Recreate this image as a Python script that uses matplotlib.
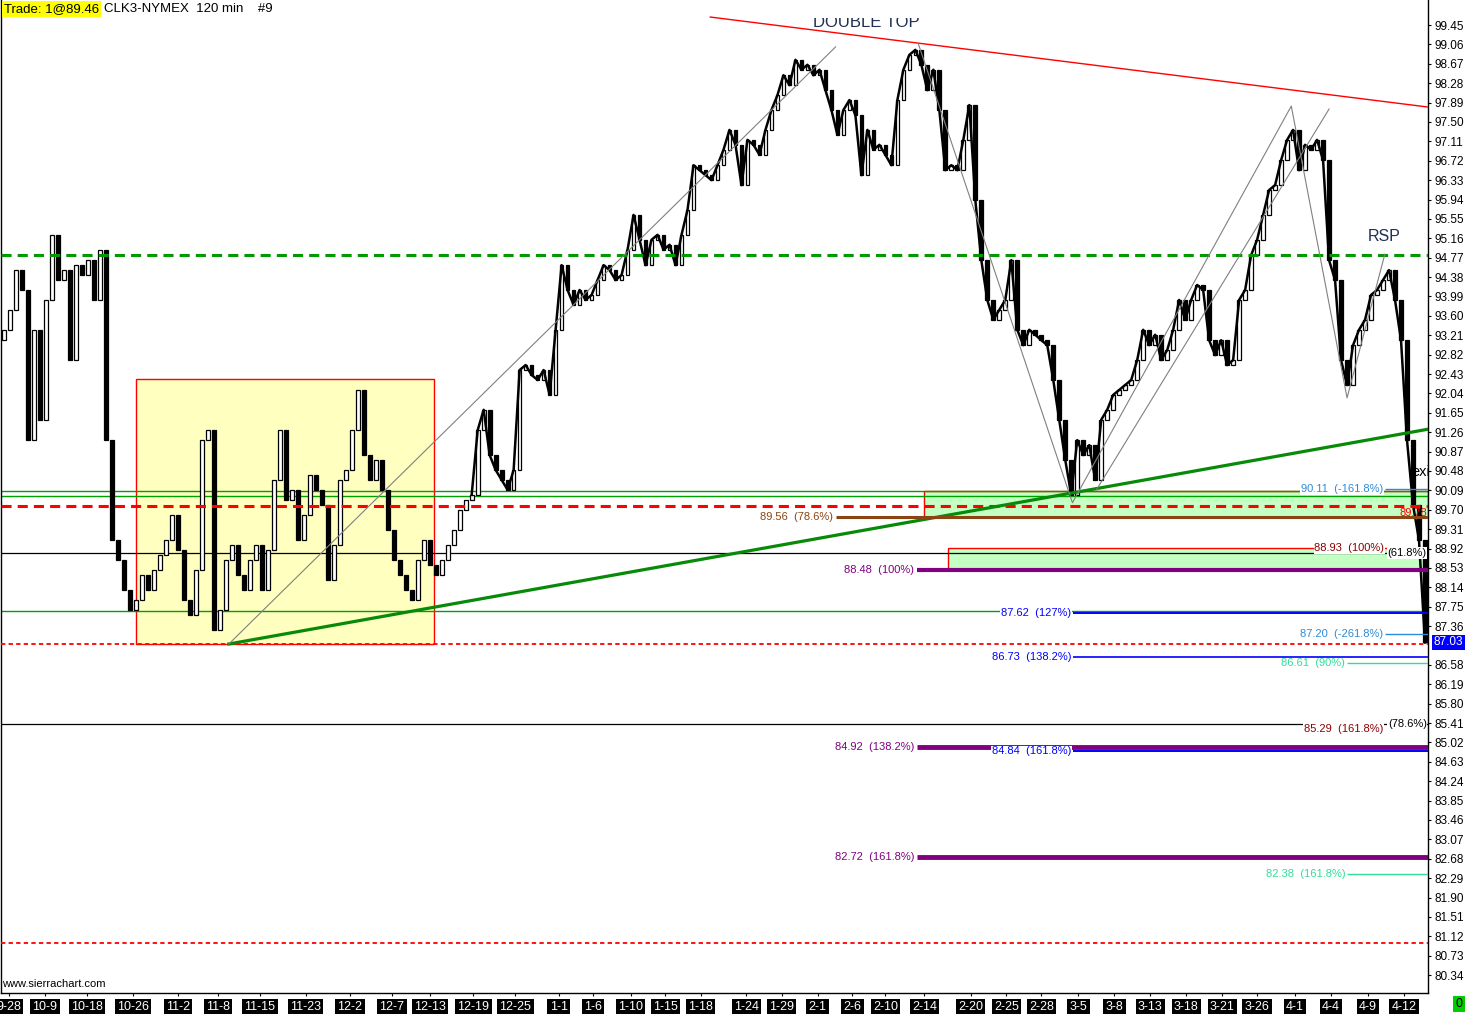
import numpy as np
import matplotlib
matplotlib.use('Agg')
import matplotlib.pyplot as plt
from matplotlib.patches import Rectangle
from matplotlib.transforms import Bbox, TransformedBbox, IdentityTransform

plt.rcParams['font.family'] = ['Liberation Sans', 'DejaVu Sans']

# 120 min closes, CLK3 (one value per bar)
closes = [
    93.32, 93.72, 94.52, 94.12, 91.10, 93.32, 91.51, 93.92, 95.23, 94.32,
    94.52, 92.71, 94.62, 94.42, 94.72, 93.92, 94.93, 91.10,
    89.09, 88.69, 88.09, 87.68, 87.89, 88.39, 88.09, 88.49, 88.79, 89.09,
    89.60, 88.89, 87.89, 87.58, 88.49, 91.10, 91.30, 87.28, 87.68, 88.69,
    88.99, 88.39, 88.09, 88.69, 88.99, 88.09, 88.89, 90.30, 91.30, 89.90,
    90.10, 89.09, 89.60, 90.40, 90.10, 89.80, 88.29, 88.99, 90.30, 90.50,
    91.30, 92.11, 90.80, 90.30, 90.70, 90.10, 89.29, 88.69, 88.39, 88.09,
    87.89, 88.69, 89.09, 88.59, 88.39, 88.69, 88.99, 89.29, 89.70, 89.90,
    90.00, 91.30, 91.71, 90.80, 90.50, 90.30, 90.10, 90.50, 92.51, 92.61,
    92.41, 92.31, 92.51, 92.01, 93.32, 94.62, 94.12, 93.82, 94.12, 93.92,
    94.02, 94.32, 94.62, 94.52, 94.32, 94.42, 94.93, 95.63, 95.13, 94.62,
    95.13, 95.23, 94.93, 95.03, 94.62, 95.23, 95.73, 96.63, 96.53, 96.43,
    96.33, 96.63, 96.94, 97.34, 97.04, 96.23, 97.14, 97.04, 96.84, 97.34,
    97.74, 98.04, 98.44, 98.24, 98.75, 98.55, 98.65, 98.44, 98.55, 98.14,
    97.74, 97.24, 97.74, 97.94, 97.64, 96.43, 97.34, 96.94, 97.04, 96.84,
    96.63, 97.94, 98.55, 98.85, 98.95, 98.65, 98.14, 98.55, 97.74, 96.53,
    96.63, 96.53, 97.14, 97.84, 95.93, 94.72, 93.92, 93.52, 93.72, 93.92,
    94.72, 93.32, 93.01, 93.32, 93.22, 93.11, 93.01, 92.31, 91.51, 90.70,
    90.00, 91.10, 90.80, 91.00, 90.30, 91.51, 91.71, 92.01, 92.11, 92.21,
    92.31, 92.71, 93.32, 93.01, 93.22, 92.71, 92.91, 93.32, 93.92, 93.52,
    93.92, 94.22, 94.12, 93.11, 92.81, 93.11, 92.61, 92.71, 93.92, 94.12,
    94.82, 95.13, 95.63, 96.13, 96.23, 96.73, 97.14, 97.34, 96.53, 97.04,
    96.94, 97.14, 96.73, 94.72, 94.32, 92.71, 92.21, 93.01, 93.32, 93.52,
    94.02, 94.12, 94.32, 94.52, 93.92, 93.11, 91.10, 89.80, 89.09, 87.03,
]
last_price = 87.03

date_labels = ['9-28', '10-9', '10-18', '10-26', '11-2', '11-8', '11-15', '11-23',
               '12-2', '12-7', '12-13', '12-19', '12-25', '1-1', '1-6', '1-10',
               '1-15', '1-18', '1-24', '1-29', '2-1', '2-6', '2-10', '2-14', '2-20',
               '2-25', '2-28', '3-5', '3-8', '3-13', '3-18', '3-21', '3-26', '4-1',
               '4-4', '4-9', '4-12']
date_bars = [0.8, 6.8, 13.8, 21.5, 29.0, 35.7, 42.7, 50.3, 57.7, 64.7, 71.0, 78.3,
             85.3, 92.5, 98.2, 104.5, 110.3, 116.2, 123.8, 129.7, 135.7, 141.5,
             147.0, 153.5, 161.2, 167.2, 173.0, 179.2, 185.2, 191.2, 197.2, 203.2,
             209.0, 215.3, 221.3, 227.5, 233.5]

# right scale, 86.97 sits under the last-price box
price_ticks = [round(99.45 - 0.39 * k, 2) for k in range(50)]
price_ticks = [p for p in price_ticks if abs(p - 86.97) > 0.01]

# horizontal levels
resistance = 94.83
red_level = 89.78
red_thin = [87.00, 80.98]
green_thin = [90.07, 89.97, 87.66]
black_thin = [88.83, 85.39]

# fib projection levels: price, pct
fib_price = [89.56, 88.48, 87.62, 86.73, 84.92, 84.84, 82.72, 90.11, 87.20, 86.61, 82.38]
fib_pct = ['78.6%', '100%', '127%', '138.2%', '138.2%', '161.8%', '161.8%',
           '-161.8%', '-261.8%', '90%', '161.8%']
# label right end (bar), line start (bar), color, line width
fib_style = [
    (138.3, 138.8, '#8B4513', 2.2),
    (151.8, 152.3, '#800080', 3.0),
    (178.0, 178.3, '#0000FF', 1.4),
    (178.0, 178.3, '#0000FF', 1.2),
    (151.8, 152.3, '#800080', 3.5),
    (178.0, 178.3, '#0000FF', 1.4),
    (151.8, 152.3, '#800080', 3.5),
    (230.0, 230.3, '#2E8BD6', 1.0),
    (230.0, 230.3, '#2E8BD6', 1.0),
    (223.7, 224.0, '#33DD99', 1.0),
    (223.7, 224.0, '#33DD99', 1.0),
]

# drawn objects (bar index, price)
box_yellow = ((22.0, 87.00), (71.7, 92.33))
box_green1 = ((153.5, 89.56), (237.5, 90.07))
box_green2 = ((157.5, 88.48), (237.5, 88.93))
trend_green = ((37.5, 87.00), (237.5, 91.32))
trend_red = ((117.8, 99.61), (237.5, 97.80))
grey_up = ((37.5, 87.00), (138.7, 99.01))
zigzag_bar = [152.5, 178.2, 214.7, 224.0, 230.3]
zigzag_price = [99.07, 89.84, 97.82, 91.95, 94.84]
channel = ((182.2, 90.10), (221.0, 97.76))

W, H = 1469, 1014
fig = plt.figure(figsize=(W / 100, H / 100), dpi=100)
ax = fig.add_axes([1 / W, 21 / H, 1427 / W, 993 / H])
n = len(closes)
ax.set_xlim(-0.5, 237.5)
ax.set_ylim(79.98, 99.953)

# boxes
(x0, y0), (x1, y1) = box_yellow
ax.add_patch(Rectangle((x0, y0), x1 - x0, y1 - y0, fc='#FFFFC0', ec='red', lw=1, zorder=1))
for (x0, y0), (x1, y1) in (box_green1, box_green2):
    ax.add_patch(Rectangle((x0, y0), x1 - x0, y1 - y0, fc='#C4FFC4', ec='red', lw=1, zorder=1.5))

# thin horizontal lines
for p in green_thin:
    ax.axhline(p, color='#00A000', lw=1, zorder=2)
for p in black_thin:
    ax.axhline(p, color='black', lw=0.9, zorder=2)

# candles
x = np.arange(n)
c = np.array(closes)
o = np.r_[c[0] - 0.2, c[:-1]]
lo = np.minimum(o, c)
h = np.maximum(np.abs(c - o), 0.04)
up = c >= o
ax.bar(x[up], h[up], bottom=lo[up], width=0.62, facecolor='white',
       edgecolor='black', lw=0.9, zorder=3)
ax.bar(x[~up], h[~up], bottom=lo[~up], width=0.62, facecolor='black',
       edgecolor='black', lw=0.9, zorder=3)
ax.plot(x[78:], c[78:], color='black', lw=1.8, zorder=3)

# dashed levels
ax.axhline(resistance, color='#009900', lw=2.2, dashes=(3.3, 2), zorder=4)
ax.axhline(red_level, color='#FF0000', lw=2.2, dashes=(3.3, 2), zorder=4)
for p in red_thin:
    ax.axhline(p, color='#FF0000', lw=1.3, dashes=(2.4, 1.8), zorder=4)

# trend lines
(a, b), (cc, d) = trend_green
ax.plot([a, cc], [b, d], color='#078A07', lw=2.3, zorder=4)
(a, b), (cc, d) = trend_red
ax.plot([a, cc], [b, d], color='#FF0000', lw=1.0, zorder=4)
(a, b), (cc, d) = grey_up
ax.plot([a, cc], [b, d], color='#808080', lw=0.8, zorder=4)
ax.plot(zigzag_bar, zigzag_price, color='#808080', lw=0.8, zorder=4)
(a, b), (cc, d) = channel
ax.plot([a, cc], [b, d], color='#808080', lw=0.8, zorder=4)

# fib levels with labels
wbox = dict(facecolor='white', edgecolor='none', pad=0.5)
for p, pct, (xl, xs, col, lw) in zip(fib_price, fib_pct, fib_style):
    ax.hlines(p, xs, 237.5, color=col, lw=lw, zorder=5)
    ax.text(xl, p, '%.2f  (%s)' % (p, pct), ha='right', va='center', fontsize=8,
            color=col, bbox=wbox, zorder=6)
ax.text(230.2, 88.93, '88.93  (100%)', ha='right', va='center', fontsize=8,
        color='#8B0000', bbox=wbox, zorder=6)
ax.text(230.0, 85.29, '85.29  (161.8%)', ha='right', va='center', fontsize=8,
        color='#8B0000', bbox=wbox, zorder=6)
ax.text(237.3, 88.83, '(61.8%)', ha='right', va='center', fontsize=8,
        color='black', bbox=wbox, zorder=6)
ax.text(237.3, 85.39, '(78.6%)', ha='right', va='center', fontsize=8,
        color='black', bbox=wbox, zorder=6)
ax.text(237.3, 89.74, '89.78', ha='right', va='top', fontsize=8,
        color='#FF0000', zorder=6)
ax.text(234.7, 90.46, 'exit', ha='left', va='center', fontsize=10.5,
        color='black', clip_on=True, zorder=6)
ax.text(230.2, 95.19, 'RSP', ha='center', va='center', fontsize=11.5,
        color='#1F2F4F', zorder=6)
t = ax.text(143.8, 99.41, 'DOUBLE TOP', ha='center', va='baseline', fontsize=12,
            color='#1F2F4F', zorder=6)
t.set_clip_on(True)
t.set_clip_box(TransformedBbox(Bbox.from_extents(0, 0, W, H - 18), IdentityTransform()))

# axes look
ax.spines['top'].set_visible(False)
for s in ('left', 'right', 'bottom'):
    ax.spines[s].set_color('black')
    ax.spines[s].set_linewidth(1)
ax.yaxis.tick_right()
ax.set_yticks(price_ticks)
ax.set_yticklabels(['%.2f' % p for p in price_ticks])
ax.tick_params(axis='y', length=2.5, pad=2, labelsize=8.5, direction='out')
ax.set_xticks(date_bars)
ax.set_xticklabels(date_labels)
ax.tick_params(axis='x', length=2.5, pad=3.5, labelsize=9, labelcolor='white', direction='out')
for lbl in ax.get_xticklabels():
    lbl.set_bbox(dict(facecolor='black', edgecolor='none', pad=1.6))

ax.annotate('%.2f' % last_price, xy=(1, last_price), xycoords=('axes fraction', 'data'),
            xytext=(4, 0), textcoords='offset points', ha='left', va='center',
            fontsize=8.5, color='white', annotation_clip=False,
            bbox=dict(facecolor='#0000FF', edgecolor='none', pad=1.2), zorder=10)

# header and footer
fig.text(4 / W, 1 - 9 / H, 'Trade: 1@89.46', fontsize=9.5, va='center', ha='left',
         bbox=dict(facecolor='#FFFF00', edgecolor='none', pad=1.2))
fig.text(104 / W, 1 - 9 / H, 'CLK3-NYMEX  120 min    #9', fontsize=9.5, va='center', ha='left')
fig.text(2 / W, 1 - 984 / H, 'www.sierrachart.com', fontsize=8, va='center', ha='left')
fig.text(1459 / W, 1 - 1004 / H, '0', fontsize=9, va='center', ha='center', color='black',
         bbox=dict(facecolor='#00CC00', edgecolor='none', pad=1.6))

fig.savefig('out.png', dpi=100)
